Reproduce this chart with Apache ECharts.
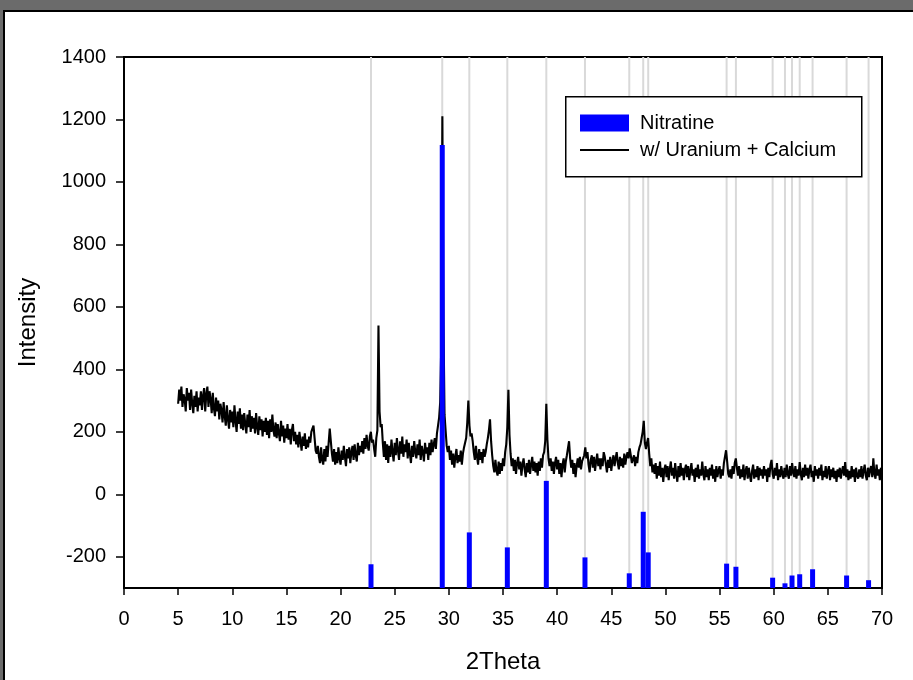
<!DOCTYPE html>
<html><head><meta charset="utf-8">
<script src="https://cdn.jsdelivr.net/npm/echarts@6/dist/echarts.min.js"></script>
<style>
html,body{margin:0;padding:0;background:#fff;}
#wrap{position:relative;width:913px;height:680px;overflow:hidden;background:#fff;}
#chart{position:absolute;left:0;top:0;width:913px;height:680px;}
.band{position:absolute;pointer-events:none;}
</style></head><body>
<div id="wrap"><div id="chart"></div>
<div class="band" style="left:0;top:0;width:913px;height:10px;background:#6b6b6b"></div>
<div class="band" style="left:0;top:0;width:3px;height:680px;background:#6b6b6b"></div>
<div class="band" style="left:3px;top:10px;width:910px;height:2px;background:#000"></div>
<div class="band" style="left:3px;top:10px;width:2px;height:670px;background:#000"></div>
</div>
<script>
// Nitratine reference peaks (2Theta) and bar tops (drawn up from the -300 baseline)
const nitratinePos = [22.81, 29.39, 31.89, 35.4, 39.0, 42.57, 46.66, 47.95, 48.41, 55.65, 56.51, 59.9, 61.04, 61.69, 62.4, 63.59, 66.73, 68.76];
const nitratineTop = [-224, 1118, -122, -170, 43, -202, -253, -56, -186, -222, -232, -267, -285, -260, -256, -240, -260, -275];
const barBase = -300;

// Measured pattern, sampled every 0.1 deg starting at 5.0
const scanStart = 5.0;
const scanStep = 0.1;
const intensity5to20 = [
290,335,300,345,280,320,305,265,340,300,
325,270,335,290,260,315,280,330,265,310,
285,330,270,315,340,265,320,345,280,330,
305,260,325,275,250,310,265,300,240,290,
270,230,295,250,220,285,240,210,270,230,
265,215,285,235,200,265,225,275,210,255,
205,260,225,195,255,215,270,200,250,210,
245,195,260,215,190,250,205,240,185,235,
200,245,190,235,180,240,200,255,205,185,
230,180,225,195,170,235,185,220,165,210,
180,225,175,210,160,205,225,170,200,160,
190,150,200,170,140,185,155,195,145,175,
150,185,165,200,210,220,180,140,130,155,
120,100,150,110,95,145,105,155,120,165,
210,170,130,105,145,95,135,100,150,115
];
const intensity20to35 = [
95,140,110,155,120,90,145,115,150,100,
135,155,110,160,125,105,165,125,155,135,
170,130,180,145,190,155,140,185,200,165,
175,145,120,180,205,540,265,215,225,165,
120,170,110,160,100,155,120,175,135,105,
165,125,180,140,110,170,130,185,120,160,
135,175,115,165,130,100,155,120,170,135,
115,160,125,175,110,155,135,105,165,130,
150,110,165,125,175,135,160,180,145,195,
220,245,295,480,1210,560,255,205,155,135,
155,110,140,95,130,85,120,145,100,125,
105,140,95,130,150,155,180,230,300,220,
185,195,170,135,110,155,120,95,145,110,
135,100,145,120,135,160,180,205,240,170,
125,90,70,110,75,60,105,65,100,75
];
const intensity35to50 = [
115,90,135,160,215,335,190,130,90,115,
75,110,65,100,120,80,105,60,95,115,
80,55,100,70,110,65,95,120,75,105,
70,100,60,105,75,115,85,125,135,170,
290,175,115,90,115,75,105,65,100,120,
80,110,65,100,55,95,115,70,105,125,
130,170,115,85,110,65,100,55,90,115,
85,120,80,105,110,125,150,115,135,95,
70,110,125,85,120,75,105,130,90,115,
80,115,90,135,120,95,70,110,85,120,
75,105,125,90,115,135,100,80,120,90,
115,85,130,95,120,135,115,147,125,100,
95,125,90,120,100,135,150,160,180,200,
235,165,145,165,180,130,90,115,70,95,
65,100,50,90,60,105,55,85,40,80
];
const intensity50to70 = [
95,55,90,45,80,105,60,85,50,100,
65,40,90,55,100,60,85,45,80,95,
55,90,45,75,100,60,80,40,85,55,
95,50,80,60,105,65,45,90,55,80,
45,85,60,95,50,80,40,90,55,75,
90,50,80,60,100,95,141,105,65,55,
80,50,90,65,100,115,85,60,90,50,
80,55,95,45,75,90,50,85,60,40,
75,95,50,80,55,90,45,85,60,80,
50,90,60,80,40,85,55,95,110,65,
50,85,60,100,45,80,55,90,65,50,
85,55,95,65,50,90,60,100,70,55,
90,50,80,60,103,65,45,85,55,95,
60,85,50,80,95,55,75,40,90,60,
80,50,85,60,95,45,75,55,90,50,
75,90,45,80,55,85,50,75,40,80,
55,85,50,75,90,60,103,55,80,45,
75,50,90,55,80,40,85,60,50,80,
55,90,50,75,95,60,45,85,55,80,
90,55,115,65,50,95,60,80,45,85,
55
];
const yTickValues = [-200, 0, 200, 400, 600, 800, 1000, 1200, 1400];
const seriesNames = ['Nitratine', 'w/ Uranium + Calcium'];

const intensity = intensity5to20.concat(intensity20to35, intensity35to50, intensity50to70);
const lineData = intensity.map((v, i) => [+(scanStart + i * scanStep).toFixed(1), v]);
const barData = nitratinePos.map((p, i) => [p, nitratineTop[i]]);

const FONT = '"Liberation Sans", Arial, sans-serif';
const chart = echarts.init(document.getElementById('chart'), null, {renderer: 'canvas'});
chart.setOption({
  animation: false,
  backgroundColor: '#fff',
  textStyle: {fontFamily: FONT},
  grid: {left: 124, right: 31, top: 57, bottom: 92, show: true, borderColor: '#000', borderWidth: 2, backgroundColor: 'transparent'},
  graphic: [{
    type: 'rect', left: 565, top: 96, z: 5,
    shape: {width: 296, height: 80},
    style: {fill: '#fff', stroke: '#000', lineWidth: 1.5}
  }],
  legend: {
    orient: 'vertical', left: 579, top: 113, padding: 0, z: 10,
    itemWidth: 49, itemHeight: 17, itemGap: 7,
    textStyle: {fontSize: 20, color: '#000', lineHeight: 20, fontFamily: FONT, padding: [0, 0, 0, 6]},
    data: [
      {name: seriesNames[0], icon: 'rect'},
      {name: seriesNames[1], itemStyle: {opacity: 0}, lineStyle: {color: '#000', width: 2, opacity: 1}}
    ]
  },
  xAxis: {
    type: 'value', min: 0, max: 70, interval: 5,
    name: '2Theta', nameLocation: 'middle', nameGap: 62,
    nameTextStyle: {fontSize: 24, color: '#000', fontFamily: FONT},
    axisLine: {onZero: false, lineStyle: {color: '#000', width: 2}},
    axisTick: {inside: false, length: 7, lineStyle: {color: '#000', width: 1.5}},
    axisLabel: {fontSize: 20, color: '#000', margin: 21, fontFamily: FONT},
    splitLine: {show: false}
  },
  yAxis: {
    type: 'value', min: -300, max: 1400,
    name: 'Intensity', nameLocation: 'middle', nameGap: 84,
    nameTextStyle: {fontSize: 24, color: '#000', fontFamily: FONT},
    axisLine: {onZero: false, lineStyle: {color: '#000', width: 2}},
    axisTick: {inside: false, length: 8, lineStyle: {color: '#000', width: 1.5}, customValues: yTickValues},
    axisLabel: {fontSize: 20, color: '#000', margin: 18, fontFamily: FONT, customValues: yTickValues, formatter: v => String(v)},
    splitLine: {show: false}
  },
  series: [
    {
      type: 'custom', name: 'refLines', silent: true, z: 1,
      data: nitratinePos.map(p => [p, 1400]),
      encode: {x: 0, y: 1},
      renderItem: function (params, api) {
        const x = api.value(0);
        const a = api.coord([x, 1400]);
        const b = api.coord([x, barBase]);
        return {type: 'line', shape: {x1: a[0], y1: a[1], x2: b[0], y2: b[1]}, style: {stroke: '#d9d9d9', lineWidth: 2}};
      }
    },
    {
      type: 'line', name: seriesNames[1], data: lineData, z: 2,
      showSymbol: false, symbol: 'none', sampling: null,
      lineStyle: {color: '#000', width: 2.1},
      itemStyle: {color: '#000'}
    },
    {
      type: 'custom', name: seriesNames[0], z: 3,
      data: barData, encode: {x: 0, y: 1},
      itemStyle: {color: '#0000ff'},
      renderItem: function (params, api) {
        const x = api.value(0);
        const top = api.coord([x, api.value(1)]);
        const base = api.coord([x, barBase]);
        const w = 5;
        return {type: 'rect', shape: {x: top[0] - w / 2, y: top[1], width: w, height: base[1] - top[1]}, style: {fill: '#0000ff'}};
      }
    }
  ]
});
</script>
</body></html>
